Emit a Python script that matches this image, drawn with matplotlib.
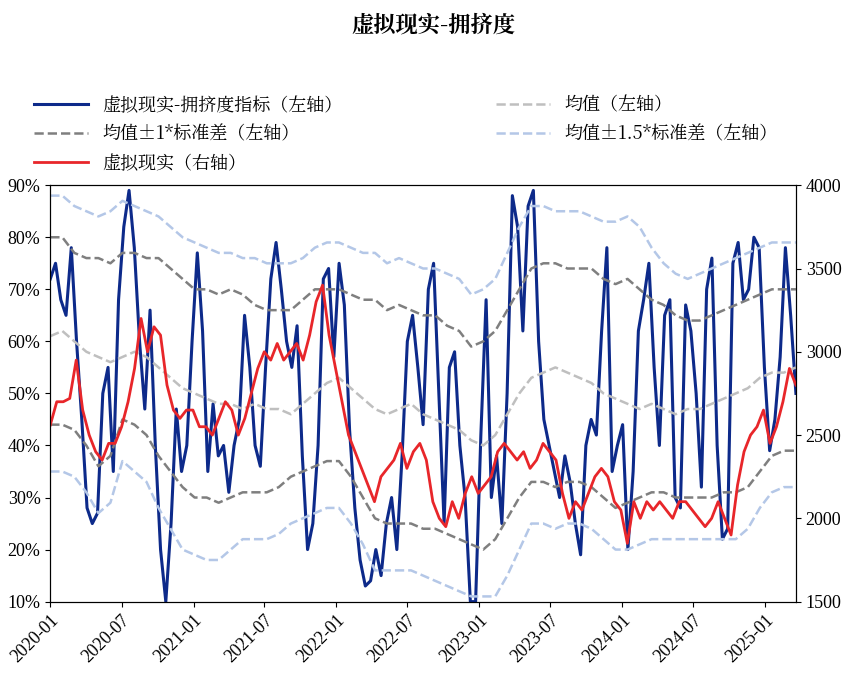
import matplotlib
matplotlib.use("Agg")
import matplotlib.pyplot as plt
import matplotlib.dates as mdates
from matplotlib import font_manager
import pandas as pd

cjk = [f.name for f in font_manager.fontManager.ttflist if "CJK" in f.name]
CJK = "Noto Sans CJK SC" if "Noto Sans CJK SC" in cjk else (cjk[0] if cjk else "DejaVu Sans")
plt.rcParams["font.family"] = ["Liberation Serif", CJK]

# ---------------------------------------------------------------------------
# DATA
# ---------------------------------------------------------------------------
crowd = [72, 75, 68, 65, 78, 60, 45, 28, 25, 27, 50, 55, 35, 68, 82, 89, 78, 60, 47, 66,
         40, 20, 10, 25, 47, 35, 40, 60, 77, 62, 35, 48, 38, 40, 31, 40, 45, 65, 55, 40,
         36, 55, 72, 79, 70, 60, 55, 63, 38, 20, 25, 40, 72, 74, 57, 75, 67, 43, 28, 18,
         13, 14, 20, 15, 25, 30, 20, 38, 60, 65, 55, 44, 70, 75, 50, 25, 55, 58, 40, 30,
         10, 10, 42, 68, 30, 38, 25, 50, 88, 82, 62, 86, 89, 60, 45, 40, 35, 30, 38, 33,
         25, 19, 40, 45, 42, 62, 78, 35, 40, 44, 20, 35, 62, 68, 75, 55, 40, 65, 68, 30,
         28, 67, 62, 50, 32, 70, 76, 40, 22, 24, 75, 79, 68, 70, 80, 78, 55, 39, 45, 57,
         78, 65, 50]

vr_index = [2560, 2700, 2700, 2720, 2950, 2650, 2500, 2400, 2350, 2450, 2450, 2550, 2700,
            2900, 3200, 3000, 3150, 3100, 2800, 2650, 2600, 2650, 2650, 2550, 2550, 2500,
            2600, 2700, 2650, 2500, 2600, 2750, 2900, 3000, 2950, 3050, 2950, 3000, 3050,
            2950, 3100, 3300, 3400, 3100, 2900, 2700, 2500, 2400, 2300, 2200, 2100, 2250,
            2300, 2350, 2450, 2300, 2400, 2450, 2350, 2100, 2000, 1950, 2100, 2000, 2150,
            2250, 2150, 2200, 2250, 2400, 2450, 2400, 2350, 2400, 2300, 2350, 2450, 2400,
            2350, 2150, 2000, 2100, 2050, 2150, 2250, 2300, 2250, 2100, 2050, 1850, 2100,
            2000, 2100, 2050, 2100, 2050, 2000, 2100, 2100, 2050, 2000, 1950, 2000, 2100,
            2000, 1900, 2200, 2400, 2500, 2550, 2650, 2450, 2550, 2700, 2900, 2800]

mean = [61, 62, 60, 58, 57, 56, 57, 58, 57, 55, 53, 51,
        50, 49, 48, 48, 47, 48, 47, 47, 46, 48, 50, 52,
        53, 51, 49, 47, 46, 47, 48, 46, 45, 44, 43, 41,
        40, 42, 46, 50, 53, 54, 55, 54, 53, 52, 50, 49,
        48, 47, 48, 47, 46, 47, 47, 48, 49, 50, 51, 53,
        54, 54, 55]
up1 = [80, 80, 77, 76, 76, 75, 77, 77, 76, 76, 74, 72,
       70, 70, 69, 70, 69, 67, 66, 66, 66, 68, 70, 70,
       70, 69, 68, 68, 66, 67, 66, 65, 65, 63, 62, 59,
       60, 62, 66, 70, 74, 75, 75, 74, 74, 74, 72, 71,
       72, 70, 68, 67, 65, 64, 64, 65, 66, 67, 68, 69,
       70, 70, 70]
lo1 = [44, 44, 43, 40, 36, 38, 45, 44, 42, 38, 35, 32,
       30, 30, 29, 30, 31, 31, 31, 32, 34, 35, 36, 37,
       37, 34, 30, 26, 25, 25, 25, 24, 24, 23, 22, 21,
       20, 22, 26, 30, 33, 33, 32, 33, 33, 32, 30, 28,
       29, 30, 31, 31, 30, 30, 30, 30, 31, 31, 32, 35,
       38, 39, 39]
up15 = [88, 88, 86, 85, 84, 85, 87, 86, 85, 84, 82, 80,
        79, 78, 77, 77, 76, 76, 75, 75, 75, 76, 78, 79,
        79, 78, 77, 77, 75, 76, 75, 74, 74, 73, 72, 69,
        70, 72, 77, 82, 86, 86, 85, 85, 85, 84, 83, 83,
        84, 82, 78, 75, 73, 72, 73, 74, 75, 76, 77, 78,
        79, 79, 79]
lo15 = [35, 35, 34, 31, 27, 29, 37, 35, 33, 28, 24, 20,
        19, 18, 18, 20, 22, 22, 22, 23, 25, 26, 27, 28,
        28, 25, 21, 16, 16, 16, 16, 15, 14, 13, 12, 11,
        11, 11, 15, 20, 25, 25, 24, 25, 25, 24, 22, 20,
        20, 21, 22, 22, 22, 22, 22, 22, 22, 22, 24, 28,
        31, 32, 32]

start, end = "2020-01-01", "2025-03-20"
d_crowd = pd.date_range(start, end, periods=len(crowd))
d_vr = pd.date_range(start, end, periods=len(vr_index))
d_band = pd.date_range(start, end, periods=len(mean))

# ---------------------------------------------------------------------------
# PLOT
# ---------------------------------------------------------------------------
fig = plt.figure(figsize=(8.67, 6.86), dpi=100)
ax = fig.add_axes([0.058, 0.123, 0.86, 0.607])
ax2 = ax.twinx()

l1, = ax.plot(d_crowd, crowd, color="#0d2a8a", lw=2.2)
l2, = ax.plot(d_band, mean, color="#bfbfbf", lw=1.8, ls="--")
l3, = ax.plot(d_band, up1, color="#7f7f7f", lw=1.8, ls="--")
ax.plot(d_band, lo1, color="#7f7f7f", lw=1.8, ls="--")
l4, = ax.plot(d_band, up15, color="#b4c7e7", lw=1.8, ls="--")
ax.plot(d_band, lo15, color="#b4c7e7", lw=1.8, ls="--")
l5, = ax2.plot(d_vr, vr_index, color="#e8262a", lw=2)

ax.set_ylim(10, 90)
ax.set_yticks(range(10, 91, 10))
ax.set_yticklabels([f"{v}%" for v in range(10, 91, 10)])
ax2.set_ylim(1500, 4000)
ax2.set_yticks(range(1500, 4001, 500))
ax.set_xlim(pd.Timestamp("2020-01-01"), pd.Timestamp("2025-03-20"))
ax.xaxis.set_major_locator(mdates.MonthLocator(bymonth=[1, 7]))
ax.xaxis.set_major_formatter(mdates.DateFormatter("%Y-%m"))
for lab in ax.get_xticklabels():
    lab.set_rotation(45)
    lab.set_ha("right")
    lab.set_rotation_mode("anchor")
for a in (ax, ax2):
    a.tick_params(labelsize=13, direction="out")

fig.text(0.5, 0.962, "虚拟现实-拥挤度", ha="center", va="center", fontsize=16,
         fontweight="bold", family=CJK)
leg = fig.legend([l1, l3, l5, l2, l4],
                 ["虚拟现实-拥挤度指标（左轴）", "均值±1*标准差（左轴）",
                  "虚拟现实（右轴）", "均值（左轴）", "均值±1.5*标准差（左轴）"],
                 loc="upper left", bbox_to_anchor=(0.02, 0.885), ncol=2,
                 frameon=False, columnspacing=8.5, handlelength=3,
                 labelspacing=0.5, prop={"family": CJK, "size": 13})

fig.savefig("out.png", dpi=100)
